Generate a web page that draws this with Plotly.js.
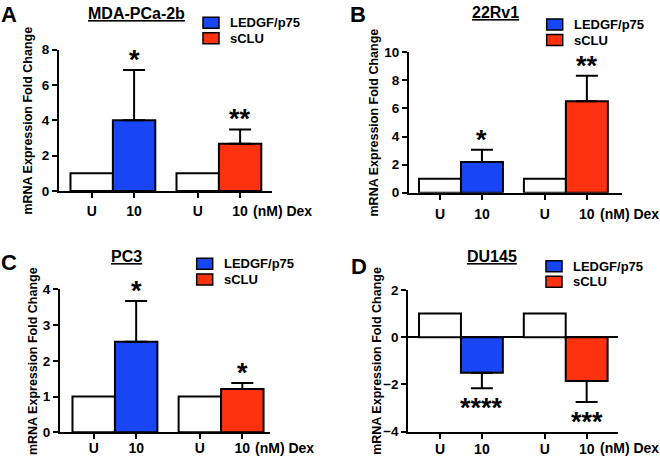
<!DOCTYPE html>
<html>
<head>
<meta charset="utf-8">
<script src="https://cdn.plot.ly/plotly-3.0.1.min.js"></script>
<style>html,body{margin:0;padding:0;background:#fff;}#chart{width:660px;height:458px;}</style>
</head>
<body>
<div id="chart"></div>
<script>
// ---- data ----
const panelLetters = ['A', 'B', 'C', 'D'];
const cellLines = ['MDA-PCa-2b', '22Rv1', 'PC3', 'DU145'];
const xTickLabels = ['U', '10', 'U', '10'];
const doseUnitLabel = '(nM) Dex';
const yAxisTitle = 'mRNA Expression Fold Change';
const seriesNames = ['LEDGF/p75', 'sCLU'];
const untreatedValues = [1, 1, 1, 1];
const ledgfValues = [4.0, 2.19, 2.53, -1.5];
const ledgfErrors = [2.85, 0.87, 1.14, 0.66];
const scluValues = [2.67, 6.51, 1.21, -1.85];
const scluErrors = [0.81, 1.82, 0.17, 0.89];
const ledgfStars = ['*', '*', '*', '****'];
const scluStars = ['**', '**', '*', '***'];
const yRanges = [[0, 8], [0, 10], [0, 4], [-4, 2]];
const yDticks = [2, 2, 1, 2];

// ---- layout / style ----
const W = 660, H = 458;
const FONT = 'Liberation Sans, Arial, sans-serif';
const BLUE = '#1846F7';
const RED = '#FF3210';
const seriesColors = [BLUE, RED];
const xPos = [0, 1, 2.5, 3.5];
// pixel boxes for each plotting area [x0, x1, yTop, yBottom]
const boxes = [[59, 271.7, 49.6, 191], [409, 621.7, 52.3, 192.7], [60, 270, 289.3, 432.3], [408.3, 618.3, 290, 431.7]];
const xRanges = [[-0.771, 4.245], [-0.738, 4.33], [-0.794, 4.152], [-0.756, 4.255]];
const xLabelOffsets = [18.5, 20, 15, 15.6];      // px from axis line to tick-label centre
const yTitleX = [28.3, 373, 32.3, 377];
const letterPos = [[9, 0], [357.5, 0], [9, 248], [358.5, 252]];   // centre x, top y
const titlePos = [[136, 13.3], [495.5, 12.5], [126.3, 256], [491.7, 256]];
// legend: swatch left x, first row centre y, text left x
const legendPos = [[203, 22.7, 227.7], [546.7, 24.5, 572.3], [196.7, 263.8, 221.7], [546, 266.2, 570.7]];
const legendRowGap = 15.6;

const px2x = p => p / W;
const px2y = p => 1 - p / H;

const traces = [];
const layout = {
  width: W, height: H,
  margin: {l: 0, r: 0, t: 0, b: 0},
  paper_bgcolor: '#fff', plot_bgcolor: 'rgba(0,0,0,0)',
  font: {family: FONT, color: '#000', size: 13, weight: 700},
  showlegend: false,
  bargap: 0,
  annotations: [],
  shapes: [],
};

for (let i = 0; i < 4; i++) {
  const n = i === 0 ? '' : String(i + 1);
  const xa = 'x' + n, ya = 'y' + n;
  const b = boxes[i];
  const neg = ledgfValues[i] < 0;

  traces.push({
    type: 'bar', name: 'U', x: [xPos[0], xPos[2]], y: [untreatedValues[i], untreatedValues[i]],
    width: 1, xaxis: xa, yaxis: ya, showlegend: false, hoverinfo: 'skip',
    marker: {color: '#ffffff', line: {color: '#000', width: 2}}
  });
  traces.push({
    type: 'bar', name: seriesNames[0], x: [xPos[1]], y: [ledgfValues[i]],
    width: 1, xaxis: xa, yaxis: ya,
    marker: {color: BLUE, line: {color: '#000', width: 2}},
    error_y: {type: 'data', symmetric: false,
      array: [neg ? 0 : ledgfErrors[i]], arrayminus: [neg ? ledgfErrors[i] : 0],
      color: '#000', thickness: 2, width: 11}
  });
  traces.push({
    type: 'bar', name: seriesNames[1], x: [xPos[3]], y: [scluValues[i]],
    width: 1, xaxis: xa, yaxis: ya,
    marker: {color: RED, line: {color: '#000', width: 2}},
    error_y: {type: 'data', symmetric: false,
      array: [neg ? 0 : scluErrors[i]], arrayminus: [neg ? scluErrors[i] : 0],
      color: '#000', thickness: 2, width: 11}
  });

  layout['xaxis' + n] = {
    domain: [px2x(b[0]), px2x(b[1])], range: xRanges[i], anchor: ya,
    tickmode: 'array', tickvals: xPos, ticktext: xTickLabels,
    showline: true, linecolor: '#000', linewidth: 2,
    ticks: 'outside', ticklen: 5, tickwidth: 2, tickcolor: '#000',
    ticklabelstandoff: Math.round(xLabelOffsets[i] - 18),
    showgrid: false, zeroline: false, fixedrange: true,
    tickfont: {family: FONT, size: 14, weight: 700, color: '#000'}
  };
  layout['yaxis' + n] = {
    domain: [px2y(b[3]), px2y(b[2])], range: yRanges[i], anchor: xa,
    dtick: yDticks[i], tick0: 0,
    showline: true, linecolor: '#000', linewidth: 2,
    ticks: 'outside', ticklen: 5, tickwidth: 2, tickcolor: '#000',
    showgrid: false, fixedrange: true,
    zeroline: yRanges[i][0] < 0, zerolinecolor: '#000', zerolinewidth: 2,
    tickfont: {family: FONT, size: 13.5, weight: 700, color: '#000'}
  };

  // y-axis title
  layout.annotations.push({
    xref: 'paper', yref: 'paper', x: px2x(yTitleX[i]), y: px2y((b[2] + b[3]) / 2),
    xanchor: 'center', yanchor: 'middle', showarrow: false, textangle: -90,
    text: yAxisTitle, font: {family: FONT, size: 12.5, weight: 700, color: '#000'}
  });
  // panel letter
  layout.annotations.push({
    xref: 'paper', yref: 'paper', x: px2x(letterPos[i][0]), y: px2y(letterPos[i][1]),
    xanchor: 'center', yanchor: 'top', showarrow: false, text: panelLetters[i],
    font: {family: FONT, size: 22, weight: 700, color: '#000'}
  });
  // underlined cell-line title
  layout.annotations.push({
    xref: 'paper', yref: 'paper', x: px2x(titlePos[i][0]), y: px2y(titlePos[i][1]),
    xanchor: 'center', yanchor: 'middle', showarrow: false, text: cellLines[i],
    font: {family: FONT, size: 16, weight: 700, color: '#000', lineposition: 'under'}
  });
  // dose unit label continuing the last tick label
  layout.annotations.push({
    xref: xa, yref: 'paper', x: xPos[3], y: px2y(b[3] + 1 + xLabelOffsets[i]),
    xanchor: 'left', yanchor: 'middle',
    xshift: 11, showarrow: false, text: doseUnitLabel,
    font: {family: FONT, size: 14, weight: 700, color: '#000'}
  });
  // legend (swatch + label per series)
  const lp = legendPos[i];
  seriesNames.forEach((name, k) => {
    const cy = lp[1] + k * legendRowGap;
    layout.shapes.push({
      type: 'rect', xref: 'paper', yref: 'paper',
      x0: px2x(lp[0]), x1: px2x(lp[0] + 16), y0: px2y(cy - 5.5), y1: px2y(cy + 5.5),
      fillcolor: seriesColors[k], line: {color: '#000', width: 1.5}
    });
    layout.annotations.push({
      xref: 'paper', yref: 'paper', x: px2x(lp[2]), y: px2y(cy),
      xanchor: 'left', yanchor: 'middle', showarrow: false, text: name,
      font: {family: FONT, size: 13, weight: 700, color: '#000'}
    });
  });
  // significance stars
  const starSpecs = [[xPos[1], ledgfValues[i], ledgfErrors[i], ledgfStars[i]],
                     [xPos[3], scluValues[i], scluErrors[i], scluStars[i]]];
  starSpecs.forEach(([sx, v, e, s]) => {
    const end = v < 0 ? v - e : v + e;
    layout.annotations.push({
      xref: xa, yref: ya, x: sx, y: end, xanchor: 'center', yanchor: 'middle',
      yshift: v < 0 ? -20 : 10, showarrow: false, text: s,
      font: {family: FONT, size: 27, weight: 700, color: '#000'}
    });
  });
}

Plotly.newPlot('chart', traces, layout, {displayModeBar: false, staticPlot: true});
</script>
</body>
</html>
